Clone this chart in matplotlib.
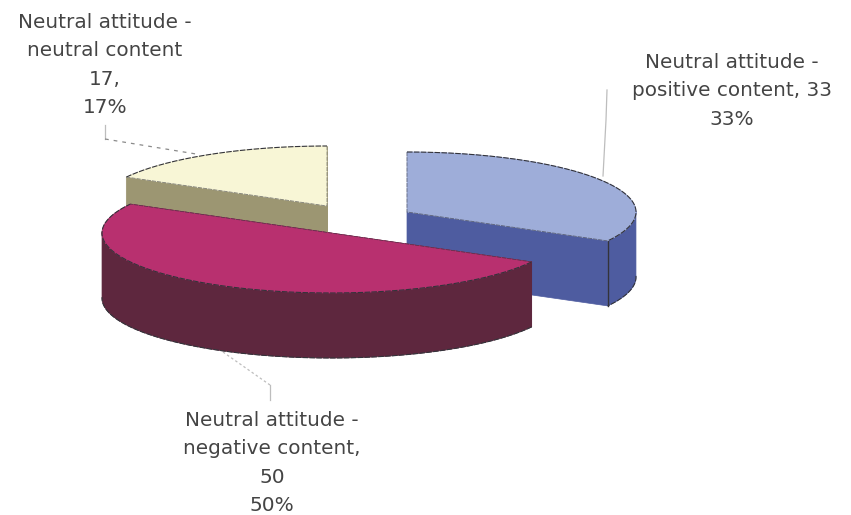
import numpy as np
import matplotlib
matplotlib.use("Agg")
import matplotlib.pyplot as plt
from matplotlib.patches import Polygon

labels = ["Neutral attitude -\npositive content, 33\n33%",
          "Neutral attitude -\nnegative content,\n50\n50%",
          "Neutral attitude -\nneutral content\n17,\n17%"]
values = [33, 50, 17]
top_colors = ["#9EADD9", "#B8306F", "#F8F6D6"]
side_colors = ["#4E5CA0", "#5E273E", "#9C9672"]
apexes = [(407, 212), (331, 233), (327, 206)]
RX, RY, DEPTH = 229, 60, 65
EDGE = "#33333a"

fig = plt.figure(figsize=(8.51, 5.15), dpi=100)
ax = fig.add_axes([0, 0, 1, 1])
ax.set_xlim(0, 851); ax.set_ylim(515, 0); ax.axis("off")

fracs = np.array(values) / sum(values)
edges = np.concatenate([[0], np.cumsum(fracs)]) * 2 * np.pi

def rim(a, b, c):
    t = np.linspace(a, b, 200)
    return np.c_[c[0] + RX*np.sin(t), c[1] - RY*np.cos(t)]

def drop(p):
    return p + np.array([0, DEPTH])

dash = (0, (5, 1.2))
for k, i in enumerate([2, 0, 1]):
    z = 3 + k * 3
    a, b, c = edges[i], edges[i+1], np.array(apexes[i], float)
    r = rim(a, b, c)
    kw = dict(fc=side_colors[i], ec=side_colors[i], lw=0.5, zorder=z)
    for end in (r[0], r[-1]):
        ax.add_patch(Polygon([c, end, drop(end), drop(c)], **kw))
    front = np.cos(np.linspace(a, b, 200)) < 0.02
    if front.any():
        fr = r[front]
        ax.add_patch(Polygon(np.vstack([fr, drop(fr)[::-1]]), **kw))
        low = drop(fr)
        ax.plot(low[:, 0], low[:, 1], color=EDGE, lw=0.8, ls=dash, zorder=z + 1)
    for end in (r[0], r[-1]):
        if i == 0 and end[1] > c[1]:
            ax.plot([end[0], end[0]], [end[1], end[1] + DEPTH], color=EDGE, lw=1.0, zorder=z + 1)
    ax.add_patch(Polygon(np.vstack([c, r]), fc=top_colors[i], ec=top_colors[i], lw=0.5, zorder=z + 1))
    ax.plot(r[:, 0], r[:, 1], color=EDGE, lw=0.8, ls=dash, zorder=z + 2)
    ax.plot([r[0, 0], c[0], r[-1, 0]], [r[0, 1], c[1], r[-1, 1]], color=EDGE, lw=0.6,
            ls=dash, alpha=0.6, zorder=z + 2)

tk = dict(family="DejaVu Sans", fontsize=14.4, color="#444444", ha="center",
          va="center", linespacing=1.62)
ax.text(732, 91, labels[0], **tk)
ax.text(272, 463, labels[1], **tk)
ax.text(105, 65, labels[2], **tk)

ln = dict(color="#bdbdbd", lw=0.9)
ax.plot([607, 606, 603], [90, 120, 176], **ln)
ax.plot([105, 105], [125, 139], **ln)
ax.plot([105, 196], [139, 154], ls=(0, (3, 4)), color="#8a8a8a", lw=0.9)
ax.plot([223, 270], [352, 385], ls=(0, (2, 2)), **ln)
ax.plot([270, 270], [385, 400], **ln)

fig.savefig("out.png", dpi=100)
